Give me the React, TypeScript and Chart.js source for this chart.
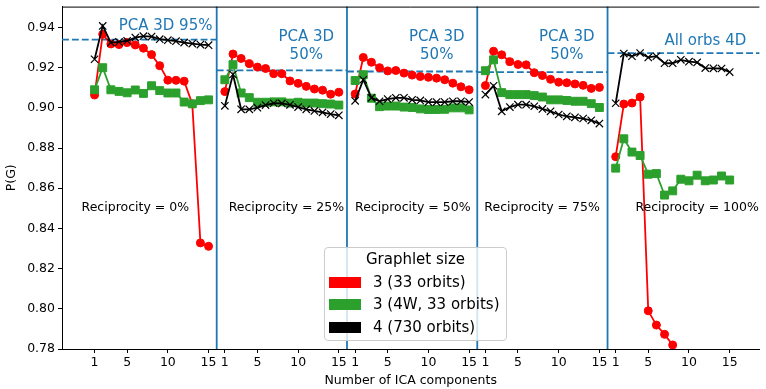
import React, { useEffect, useRef } from 'react';
import { Chart, registerables } from 'chart.js';

Chart.register(...registerables);

// ---------------- data ----------------
const COMPONENTS = [1, 2, 3, 4, 5, 6, 7, 8, 9, 10, 11, 12, 13, 14, 15];
const PANEL_OFFSET = 16;
const PANEL_TICKS = [1, 5, 10, 15];
const Y_TICKS = [0.78, 0.8, 0.82, 0.84, 0.86, 0.88, 0.9, 0.92, 0.94];

const RECIPROCITY_LABELS = ['Reciprocity = 0%', 'Reciprocity = 25%', 'Reciprocity = 50%', 'Reciprocity = 75%', 'Reciprocity = 100%'];
const REFERENCE_LABELS = [['PCA 3D 95%'], ['PCA 3D', '50%'], ['PCA 3D', '50%'], ['PCA 3D', '50%'], ['All orbs 4D']];
const REFERENCE_VALUES = [0.934, 0.9187, 0.9181, 0.9178, 0.9272];

const SERIES_LABELS = ['3 (33 orbits)', '3 (4W, 33 orbits)', '4 (730 orbits)'];
const LEGEND_TITLE = 'Graphlet size';

// red: 3 (33 orbits)
const RED_R0 = [0.9064, 0.9366, 0.9318, 0.9315, 0.9325, 0.9313, 0.9297, 0.9265, 0.921, 0.9138, 0.9137, 0.9133, 0.902, 0.8328, 0.8311];
const RED_R25 = [0.9081, 0.9268, 0.9246, 0.922, 0.9203, 0.9196, 0.917, 0.917, 0.9134, 0.9122, 0.9107, 0.9094, 0.9088, 0.9068, 0.9078];
const RED_R50 = [0.9069, 0.9251, 0.9227, 0.92, 0.9184, 0.9186, 0.9173, 0.9163, 0.9156, 0.9152, 0.9148, 0.914, 0.9123, 0.9105, 0.909];
const RED_R75 = [0.9111, 0.9282, 0.9264, 0.923, 0.9216, 0.9214, 0.9175, 0.9161, 0.9142, 0.9128, 0.9125, 0.9119, 0.9112, 0.9097, 0.9102];
const RED_R100 = [0.8757, 0.9019, 0.9024, 0.9054, 0.799, 0.7919, 0.7873, 0.782];

// green: 3 (4W, 33 orbits)
const GREEN_R0 = [0.909, 0.92, 0.909, 0.9082, 0.9075, 0.9089, 0.9072, 0.911, 0.9086, 0.9074, 0.9074, 0.9029, 0.902, 0.9036, 0.904];
const GREEN_R25 = [0.914, 0.9215, 0.9074, 0.9051, 0.9028, 0.9028, 0.903, 0.903, 0.9024, 0.9028, 0.9024, 0.9024, 0.9021, 0.9019, 0.9014];
const GREEN_R50 = [0.9136, 0.9165, 0.9048, 0.9006, 0.9009, 0.9009, 0.9004, 0.9002, 0.8995, 0.8992, 0.8992, 0.8993, 0.9, 0.9, 0.899];
const GREEN_R75 = [0.9185, 0.9239, 0.9076, 0.9066, 0.9066, 0.9066, 0.9061, 0.9054, 0.904, 0.904, 0.9037, 0.9033, 0.9033, 0.9021, 0.9002];
const GREEN_R100 = [0.87, 0.8846, 0.878, 0.8763, 0.867, 0.8673, 0.8566, 0.8587, 0.8645, 0.8637, 0.8665, 0.8637, 0.8641, 0.8661, 0.8641];

// black: 4 (730 orbits)
const BLACK_R0 = [0.9242, 0.9408, 0.9325, 0.9328, 0.9334, 0.935, 0.9357, 0.9355, 0.9342, 0.9337, 0.9332, 0.9325, 0.932, 0.9315, 0.9312];
const BLACK_R25 = [0.901, 0.9166, 0.8993, 0.8993, 0.9001, 0.9014, 0.9023, 0.9022, 0.9015, 0.9004, 0.8993, 0.8985, 0.8978, 0.8969, 0.8963];
const BLACK_R50 = [0.9035, 0.914, 0.905, 0.9033, 0.9044, 0.905, 0.905, 0.904, 0.9037, 0.9029, 0.9029, 0.9029, 0.9033, 0.9033, 0.9029];
const BLACK_R75 = [0.9066, 0.911, 0.8983, 0.9004, 0.9016, 0.9016, 0.9008, 0.8995, 0.8983, 0.8967, 0.8958, 0.8953, 0.8947, 0.8938, 0.8922];
const BLACK_R100 = [0.9023, 0.927, 0.9257, 0.9273, 0.9251, 0.9257, 0.9222, 0.9222, 0.9239, 0.923, 0.9226, 0.9198, 0.9197, 0.9196, 0.9178];

const RED_PANELS = [RED_R0, RED_R25, RED_R50, RED_R75, RED_R100];
const GREEN_PANELS = [GREEN_R0, GREEN_R25, GREEN_R50, GREEN_R75, GREEN_R100];
const BLACK_PANELS = [BLACK_R0, BLACK_R25, BLACK_R50, BLACK_R75, BLACK_R100];

// ---------------- styles / layout ----------------
const FONT = "'DejaVu Sans', 'Liberation Sans', sans-serif";
const BLUE = '#1f77b4';
const SERIES_COLORS = ['#ff0000', '#2ca02c', '#000000'];
const SERIES_STYLES = ['circle', 'rect', 'crossRot'];
const SERIES_RADIUS = [4, 5.6, 5.2];
const X_MIN = -3;
const X_MAX = 82.65;
const Y_MIN = 0.78;
const Y_MAX = 0.9504;
// annotation anchors (data coordinates)
const RECIPROCITY_POS_X = [6.0, 24.56, 40.08, 55.96, 75.0];
const RECIPROCITY_POS_Y = 0.8505;
const REFERENCE_POS_X = [9.72, 27.0, 43.02, 59.0, 76.01];
const REFERENCE_POS_Y = [[0.9405], [0.935, 0.9261], [0.935, 0.9261], [0.935, 0.9261], [0.9331]];

const X_TICKS: number[] = [];
RED_PANELS.forEach((_, p) => PANEL_TICKS.forEach((t) => X_TICKS.push(t + PANEL_OFFSET * p)));

function buildDatasets() {
  const groups = [RED_PANELS, GREEN_PANELS, BLACK_PANELS];
  const out: any[] = [];
  groups.forEach((panels, s) => {
    panels.forEach((vals, p) => {
      out.push({
        label: SERIES_LABELS[s],
        data: vals.map((v, i) => ({ x: COMPONENTS[i] + PANEL_OFFSET * p, y: v })),
        borderColor: SERIES_COLORS[s],
        backgroundColor: SERIES_COLORS[s],
        pointBackgroundColor: SERIES_COLORS[s],
        pointBorderColor: SERIES_COLORS[s],
        pointStyle: SERIES_STYLES[s],
        pointRadius: SERIES_RADIUS[s],
        pointBorderWidth: s === 2 ? 1.2 : 1,
        borderWidth: 1.8,
        tension: 0,
        fill: false,
        order: 3 - s,
      });
    });
  });
  return out;
}

const panelPlugin = {
  id: 'panelDecor',
  beforeDatasetsDraw(chart: any) {
    const { ctx, chartArea, scales } = chart;
    const xs = scales.x;
    const ys = scales.y;
    ctx.save();
    // dashed reference lines
    ctx.strokeStyle = BLUE;
    ctx.lineWidth = 1.8;
    ctx.setLineDash([6.9, 3]);
    REFERENCE_VALUES.forEach((v, p) => {
      const x0 = p === 0 ? chartArea.left : xs.getPixelForValue(PANEL_OFFSET * p);
      const x1 = p === REFERENCE_VALUES.length - 1 ? chartArea.right : xs.getPixelForValue(PANEL_OFFSET * (p + 1));
      const y = ys.getPixelForValue(v);
      ctx.beginPath();
      ctx.moveTo(x0, y);
      ctx.lineTo(x1, y);
      ctx.stroke();
    });
    ctx.setLineDash([]);
    // vertical panel separators
    for (let p = 1; p < REFERENCE_VALUES.length; p++) {
      const x = xs.getPixelForValue(PANEL_OFFSET * p);
      ctx.beginPath();
      ctx.moveTo(x, chartArea.top);
      ctx.lineTo(x, chartArea.bottom);
      ctx.stroke();
    }
    // top spine
    ctx.strokeStyle = '#000';
    ctx.lineWidth = 1;
    ctx.beginPath();
    ctx.moveTo(chartArea.left, chartArea.top + 0.5);
    ctx.lineTo(chartArea.right, chartArea.top + 0.5);
    ctx.stroke();
    ctx.restore();
  },
  afterDatasetsDraw(chart: any) {
    const { ctx, scales } = chart;
    const xs = scales.x;
    const ys = scales.y;
    ctx.save();
    ctx.textAlign = 'center';
    ctx.textBaseline = 'middle';
    ctx.fillStyle = BLUE;
    ctx.font = `15px ${FONT}`;
    REFERENCE_LABELS.forEach((lines, p) => {
      lines.forEach((line, k) => {
        ctx.fillText(line, xs.getPixelForValue(REFERENCE_POS_X[p]), ys.getPixelForValue(REFERENCE_POS_Y[p][k]));
      });
    });
    ctx.fillStyle = '#000';
    ctx.font = `12.5px ${FONT}`;
    RECIPROCITY_LABELS.forEach((t, p) => {
      ctx.fillText(t, xs.getPixelForValue(RECIPROCITY_POS_X[p]), ys.getPixelForValue(RECIPROCITY_POS_Y));
    });
    ctx.restore();
  },
};

function Legend() {
  return (
    <div
      style={{
        position: 'absolute',
        left: 324,
        top: 247,
        width: 181,
        height: 92,
        background: 'rgba(255,255,255,0.8)',
        border: '1px solid #cccccc',
        borderRadius: 4,
        fontFamily: FONT,
        fontSize: 15,
        color: '#000',
      }}
    >
      <div style={{ position: 'absolute', top: 2, left: 0, right: 0, textAlign: 'center', lineHeight: '18px', whiteSpace: 'nowrap' }}>
        {LEGEND_TITLE}
      </div>
      {SERIES_LABELS.map((label, i) => {
        const cy = [34, 56, 79][i];
        return (
          <React.Fragment key={label}>
            <div style={{ position: 'absolute', left: 4, top: cy - 5.5, width: 32, height: 11, background: SERIES_COLORS[i] }} />
            <div style={{ position: 'absolute', left: 48, top: cy - 9, lineHeight: '18px', whiteSpace: 'nowrap' }}>{label}</div>
          </React.Fragment>
        );
      })}
    </div>
  );
}

export default function App() {
  const ref = useRef<HTMLCanvasElement>(null);
  useEffect(() => {
    document.body.style.margin = '0';
    Chart.defaults.font.family = FONT;
    Chart.defaults.color = '#000';
    const chart = new Chart(ref.current as HTMLCanvasElement, {
      type: 'line',
      data: { datasets: buildDatasets() },
      options: {
        animation: false,
        responsive: false,
        devicePixelRatio: 1,
        layout: { padding: { top: 5, left: 0, right: 0, bottom: 0 } },
        plugins: { legend: { display: false }, tooltip: { enabled: false } },
        scales: {
          x: {
            type: 'linear',
            min: X_MIN,
            max: X_MAX,
            afterBuildTicks: (s: any) => {
              s.ticks = X_TICKS.map((v) => ({ value: v }));
            },
            afterFit: (s: any) => {
              s.height = 40;
              s.paddingLeft = 0;
              s.paddingRight = 0;
            },
            ticks: {
              autoSkip: false,
              maxRotation: 0,
              padding: 2,
              color: '#000',
              font: { size: 12.5, family: FONT },
              callback: (v: any) => {
                const n = Number(v);
                return String(n - PANEL_OFFSET * Math.floor((n - 1) / PANEL_OFFSET));
              },
            },
            grid: { drawOnChartArea: false, tickLength: 4, color: '#000', lineWidth: 1 },
            border: { display: true, color: '#000', width: 1 },
            title: {
              display: true,
              text: 'Number of ICA components',
              color: '#000',
              font: { size: 12.5, family: FONT },
              padding: { top: 0, bottom: 1 },
            },
          },
          y: {
            type: 'linear',
            min: Y_MIN,
            max: Y_MAX,
            afterBuildTicks: (s: any) => {
              s.ticks = Y_TICKS.map((v) => ({ value: v }));
            },
            afterFit: (s: any) => {
              s.width = 62;
              s.paddingTop = 0;
              s.paddingBottom = 0;
            },
            ticks: {
              padding: 3,
              color: '#000',
              font: { size: 12.5, family: FONT },
              callback: (v: any) => Number(v).toFixed(2),
            },
            grid: { drawOnChartArea: false, tickLength: 4, color: '#000', lineWidth: 1 },
            border: { display: true, color: '#000', width: 1 },
            title: {
              display: true,
              text: 'P(G)',
              color: '#000',
              font: { size: 12.5, family: FONT },
              padding: { top: 4, bottom: 0 },
            },
          },
        },
      } as any,
      plugins: [panelPlugin],
    });
    return () => chart.destroy();
  }, []);
  return (
    <div style={{ position: 'relative', width: 766, height: 389, overflow: 'hidden' }}>
      <style>{'body{margin:0}'}</style>
      <canvas ref={ref} width={766} height={389} style={{ display: 'block', width: 766, height: 389 }} />
      <Legend />
    </div>
  );
}
